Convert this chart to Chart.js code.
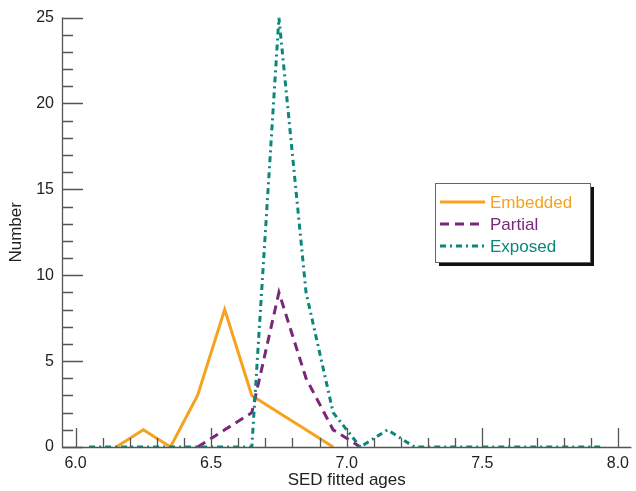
<!DOCTYPE html>
<html><head><meta charset="utf-8">
<script src="https://cdn.jsdelivr.net/npm/chart.js@4.4.0/dist/chart.umd.min.js"></script>
<style>html,body{margin:0;padding:0;background:#fff}#wrap{width:636px;height:491px}</style>
</head><body><div id="wrap"><canvas id="c" width="636" height="491"></canvas></div>
<script>
// Bin centres (SED fitted ages)
const binCenters = [6.05,6.15,6.25,6.35,6.45,6.55,6.65,6.75,6.85,6.95,7.05,7.15,7.25,7.35,7.45,7.55,7.65,7.75,7.85,7.95];
const embedded = [null,0,1,0,3,8,3,2,1,0,null,null,null,null,null,null,null,null,null,null];
const partial  = [null,null,null,null,0,1,2,9,4,1,0,null,null,null,null,null,null,null,null,null];
const exposed  = [0,0,0,0,0,0,0,25,9,2,0,1,0,0,0,0,0,0,0,0];
const xTickLabels = [6.0,6.5,7.0,7.5,8.0];
const yTickLabels = [0,5,10,15,20,25];
const seriesNames = ['Embedded','Partial','Exposed'];

const FONT = "'Liberation Sans', Arial, Helvetica, sans-serif";
const COLORS = ['rgb(245,163,30)','rgb(122,38,122)','rgb(10,135,122)'];
const DASHES = [[],[9,6],[6,4,2,4]];

function pts(arr){ return binCenters.map((x,i)=>({x, y: arr[i]})); }

const axisPlugin = {
  id:'axesTicks',
  afterDatasetsDraw(chart){
    const {ctx, chartArea:a, scales:{x,y}} = chart;
    ctx.save();
    ctx.strokeStyle='#555'; ctx.lineWidth=1.3; ctx.setLineDash([]);
    ctx.beginPath();
    ctx.moveTo(a.left+0.5, a.top); ctx.lineTo(a.left+0.5, a.bottom+0.5); ctx.lineTo(a.right, a.bottom+0.5);
    ctx.stroke();
    ctx.beginPath();
    for(let i=0;i<=20;i++){
      const px = Math.round(x.getPixelForValue(6+i*0.1))+0.5;
      const len = (i%5===0)?19:9;
      ctx.moveTo(px,a.bottom); ctx.lineTo(px,a.bottom-len);
    }
    for(let v=0; v<=25; v++){
      const py = Math.round(y.getPixelForValue(v))+0.5;
      const len = (v%5===0)?21:11;
      ctx.moveTo(a.left,py); ctx.lineTo(a.left+len,py);
    }
    ctx.stroke();
    ctx.restore();
  }
};

const legendPlugin = {
  id:'boxLegend',
  afterDraw(chart){
    const {ctx} = chart;
    const bx=435, by=183, bw=155, bh=79;
    ctx.save();
    ctx.fillStyle='#111';
    ctx.fillRect(bx+4, by+4, bw, bh);
    ctx.fillStyle='#fff';
    ctx.fillRect(bx, by, bw, bh);
    ctx.strokeStyle='#666'; ctx.lineWidth=1;
    ctx.strokeRect(bx+0.5, by+0.5, bw, bh);
    const rows=[202,224,246];
    chart.data.datasets.forEach((ds,i)=>{
      const yy = rows[i];
      ctx.strokeStyle = ds.borderColor; ctx.lineWidth = 3;
      ctx.setLineDash(ds.borderDash||[]);
      ctx.beginPath(); ctx.moveTo(440,yy); ctx.lineTo(485,yy); ctx.stroke();
      ctx.setLineDash([]);
      ctx.fillStyle = ds.borderColor;
      ctx.font = "17px " + FONT;
      ctx.textBaseline='middle'; ctx.textAlign='left';
      ctx.fillText(ds.label, 490, yy+1);
    });
    ctx.restore();
  }
};

new Chart(document.getElementById('c'), {
  type:'line',
  data:{
    datasets:[
      {label:seriesNames[0], data:pts(embedded), borderColor:COLORS[0], borderDash:DASHES[0], borderWidth:3, pointRadius:0, tension:0, spanGaps:false, order:2},
      {label:seriesNames[1], data:pts(partial), borderColor:COLORS[1], borderDash:DASHES[1], borderWidth:3, pointRadius:0, tension:0, spanGaps:false, order:1},
      {label:seriesNames[2], data:pts(exposed), borderColor:COLORS[2], borderDash:DASHES[2], borderWidth:3, pointRadius:0, tension:0, spanGaps:false, order:0}
    ]
  },
  options:{
    responsive:false, animation:false, devicePixelRatio:1,
    layout:{padding:{top:13,right:0,left:0,bottom:0}},
    plugins:{legend:{display:false}, tooltip:{enabled:false}},
    scales:{
      x:{type:'linear', min:5.95, max:8.05,
        grid:{display:false, drawTicks:false}, border:{display:false},
        afterBuildTicks(s){ s.ticks = xTickLabels.map(v=>({value:v})); },
        afterFit(s){ s.height = 44; },
        ticks:{font:{family:FONT,size:16}, color:'#222', padding:7, maxRotation:0, autoSkip:false,
          callback:(v)=>Number(v).toFixed(1)},
        title:{display:true, text:'SED fitted ages', font:{family:FONT,size:17}, color:'#222', padding:{top:0,bottom:0}}
      },
      y:{type:'linear', min:0, max:25,
        grid:{display:false, drawTicks:false}, border:{display:false},
        afterBuildTicks(s){ s.ticks = yTickLabels.map(v=>({value:v})); },
        afterFit(s){ s.width = 62; },
        ticks:{font:{family:FONT,size:16}, color:'#222', padding:8, autoSkip:false},
        title:{display:true, text:'Number', font:{family:FONT,size:17}, color:'#222', padding:{top:6,bottom:0}}
      }
    }
  },
  plugins:[axisPlugin, legendPlugin]
});
</script>
</body></html>
